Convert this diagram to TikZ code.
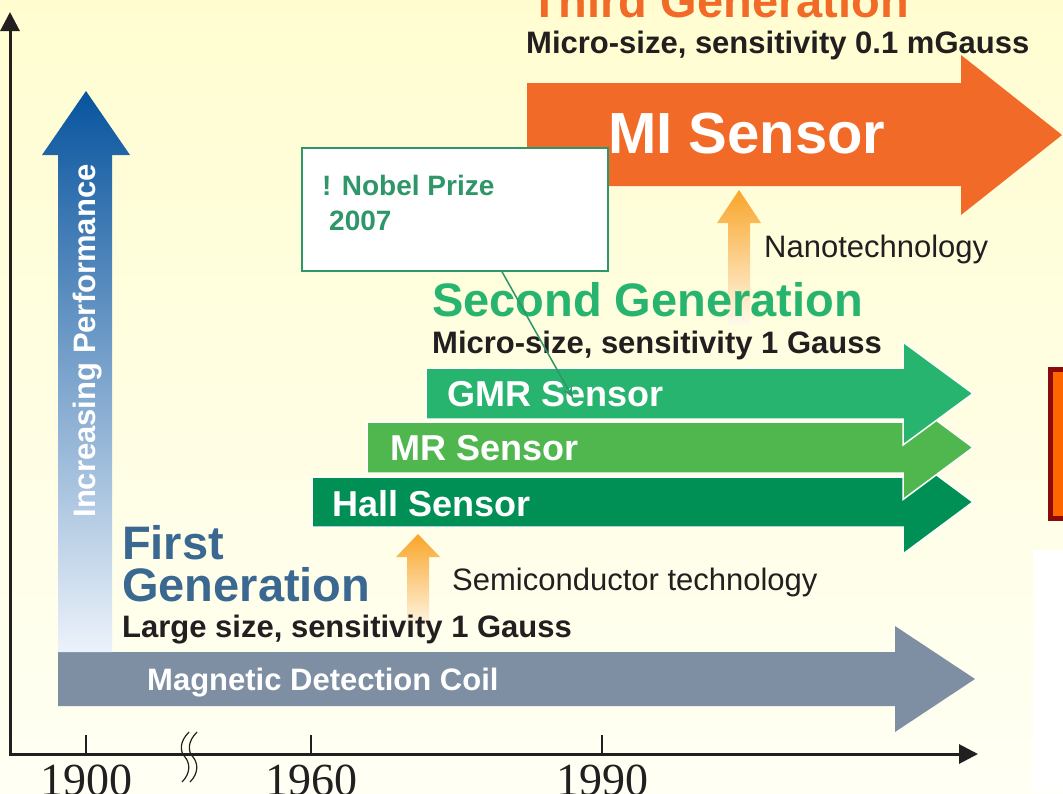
\documentclass[tikz,border=0pt]{standalone}
\usepackage{fontspec}
\setmainfont{Liberation Sans}
\newfontfamily\yearfont{Liberation Serif}
\usetikzlibrary{arrows.meta}

\definecolor{bgtop}{RGB}{255,253,208}
\definecolor{bgbottom}{RGB}{255,255,244}
\definecolor{inkblack}{RGB}{35,31,32}
\definecolor{coilgray}{RGB}{127,143,163}
\definecolor{hallgreen}{RGB}{0,143,85}
\definecolor{mrgreen}{RGB}{80,183,79}
\definecolor{gmrgreen}{RGB}{39,180,110}
\definecolor{miorange}{RGB}{242,106,39}
\definecolor{firstblue}{RGB}{58,104,144}
\definecolor{nobelgreen}{RGB}{46,150,104}
\definecolor{techorange}{RGB}{249,165,42}
\definecolor{techfade}{RGB}{255,250,236}
\definecolor{perfblue}{RGB}{8,84,158}
\definecolor{perfpale}{RGB}{236,242,250}
\definecolor{edgered}{RGB}{139,10,10}
\definecolor{edgeorange}{RGB}{255,102,0}

\begin{document}
\begin{tikzpicture}[
    x = 1pt,
    y = -1pt,
    >={Stealth[length=11pt,width=9pt]},
    axis/.style = {inkblack, line width=3pt},
    yeartick/.style = {inkblack, line width=2pt},
    yearlabel/.style = {font=\yearfont\fontsize{46}{55}\selectfont, text=inkblack,
              anchor=north, inner sep=0pt},
    sensorarrow/.style = {draw=white, line width=1.5pt},
    gentitle/.style = {font=\fontsize{47}{42}\selectfont\bfseries, anchor=base west,
              inner sep=0pt},
    subtitle/.style = {font=\fontsize{31}{37}\selectfont\bfseries, text=inkblack,
              anchor=base west, inner sep=0pt},
    sensorlabel/.style = {font=\fontsize{36}{43}\selectfont\bfseries, text=white,
              anchor=base west, inner sep=0pt},
    techlabel/.style = {font=\fontsize{31}{37}\selectfont, text=inkblack,
              anchor=base west, inner sep=0pt},
    nobelbox/.style = {draw=nobelgreen, fill=white, line width=1.5pt,
              minimum width=306pt, minimum height=123pt, inner sep=0pt},
    nobeltext/.style = {font=\fontsize{28}{35}\selectfont\bfseries, text=nobelgreen,
              align=left, anchor=north west, inner sep=0pt},
    ]

\useasboundingbox (0,0) rectangle (1063,793);
\clip (0,0) rectangle (1063,793);

% background
\shade[top color=bgtop, bottom color=bgbottom] (0,0) rectangle (1063,793);
\fill[white] (1033,550) rectangle (1063,793);
\filldraw[fill=edgeorange, draw=edgered, line width=5pt] (1050.5,369.5) rectangle (1075,518.5);

% axes
\coordinate (ytop) at (10,12);
\coordinate (origin) at (10,754);
\coordinate (xend) at (978,754);
\draw[axis, {Triangle[length=19pt,width=19pt]}-{Triangle[length=19pt,width=19pt]}] (ytop) -- (origin) -- (xend);

\draw[yeartick] (86,735) -- (86,754);
\draw[yeartick] (311,735) -- (311,754);
\draw[yeartick] (602,735) -- (602,754);
\node[yearlabel] (y1900) at (86,765) {1900};
\node[yearlabel] (y1960) at (311,765) {1960};
\node[yearlabel] (y1990) at (602,765) {1990};

% axis break
\draw[inkblack, line width=1.2pt] (189,732) .. controls (179,742) and (180,752) .. (185,757)
    .. controls (190,763) and (191,773) .. (182,782);
\draw[inkblack, line width=1.2pt] (197,732) .. controls (187,742) and (188,752) .. (193,757)
    .. controls (198,763) and (199,773) .. (190,782);

% big arrows
\fill[coilgray] (58,652) -- (895,652) -- (895,626) -- (975,679) -- (895,732) -- (895,706) -- (58,706) -- cycle;
\shade[top color=perfblue, bottom color=perfpale] (58,652) -- (58,155) -- (42,155) -- (86,91) -- (130,155) -- (112,155) -- (112,652) -- cycle;

\filldraw[sensorarrow, fill=hallgreen] (312,477) -- (903,477) -- (903,450) -- (973,502) -- (903,554) -- (903,527) -- (312,527) -- cycle;
\filldraw[sensorarrow, fill=mrgreen] (367,422) -- (903,422) -- (903,395.5) -- (973,447.5) -- (903,499.5) -- (903,473) -- (367,473) -- cycle;
\filldraw[sensorarrow, fill=gmrgreen] (426,368) -- (903,368) -- (903,342) -- (973,393.5) -- (903,445) -- (903,419) -- (426,419) -- cycle;

\fill[miorange] (527,83) -- (961,83) -- (961,55) -- (1062,135) -- (961,215) -- (961,186) -- (527,186) -- cycle;

% technology arrows
\shade[top color=techorange, bottom color=techfade] (728,325) -- (728,223) -- (717,223) -- (739,190) -- (761,223) -- (750,223) -- (750,325) -- cycle;
\shade[top color=techorange, bottom color=techfade] (407,630) -- (407,557) -- (396,557) -- (418,534) -- (440,557) -- (429,557) -- (429,630) -- cycle;

% labels
\node[sensorlabel, font=\fontsize{31}{37}\selectfont\bfseries] (coil) at (147,690) {Magnetic Detection Coil};
\node[sensorlabel] (hall) at (332,516) {Hall Sensor};
\node[sensorlabel] (mr) at (390,460) {MR Sensor};
\node[sensorlabel] (gmr) at (447,406) {GMR Sensor};
\node[sensorlabel, font=\fontsize{58}{68}\selectfont\bfseries] (mi) at (608,153) {MI Sensor};
\node[sensorlabel, font=\fontsize{31}{37}\selectfont\bfseries, rotate=90, anchor=center] (perf) at (88,341) {Increasing Performance};

\node[gentitle, text=miorange] (third) at (530,17) {Third Generation};
\node[subtitle] (thirdsub) at (526,53) {Micro-size, sensitivity 0.1 mGauss};
\node[gentitle, text=gmrgreen] (second) at (432,316) {Second Generation};
\node[subtitle] (secondsub) at (432,353) {Micro-size, sensitivity 1 Gauss};
\node[gentitle, text=firstblue, align=left, anchor=north west] (first) at (122,525) {First\\Generation};
\node[subtitle] (firstsub) at (122,637) {Large size, sensitivity 1 Gauss};

\node[techlabel] (nano) at (764,257) {Nanotechnology};
\node[techlabel] (semi) at (452,590) {Semiconductor technology};

% nobel note
\node[nobelbox] (nobel) at (455,209.5) {};
\node[nobeltext] (nobeltxt) at (322,175) {! Nobel Prize\\\hspace*{7pt}2007};
\coordinate (gmrpt) at (573,398);
\draw[->, nobelgreen, line width=1.5pt] ([xshift=47pt]nobel.south) -- (gmrpt);

\end{tikzpicture}
\end{document}
